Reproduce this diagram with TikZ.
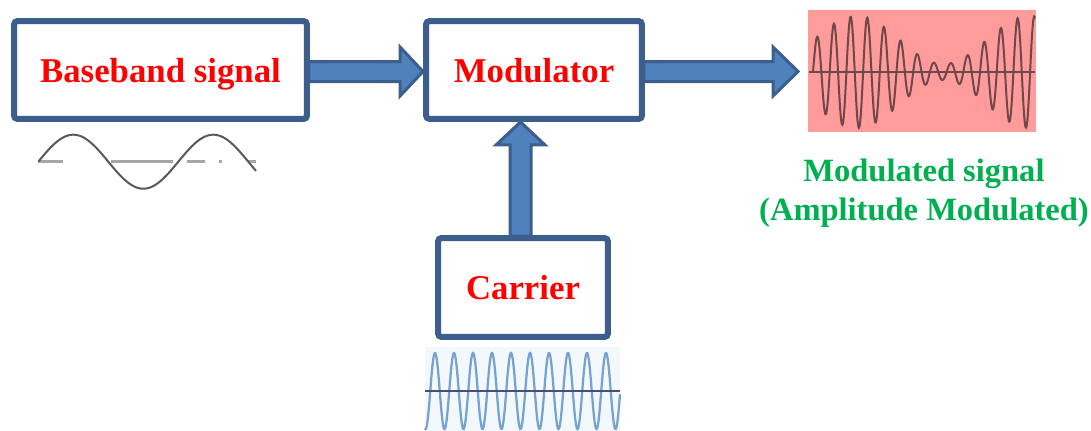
\documentclass[tikz,border=0pt]{standalone}
\usepackage{fontspec}
\setmainfont{Liberation Serif}
\usetikzlibrary{positioning,calc}

\definecolor{boxblue}{RGB}{59,94,140}
\definecolor{arrfill}{RGB}{79,129,189}
\definecolor{sigpink}{RGB}{255,155,155}
\definecolor{lblgreen}{RGB}{0,176,80}
\definecolor{amline}{RGB}{112,72,74}
\definecolor{carline}{RGB}{118,162,208}
\definecolor{carbg}{RGB}{243,248,253}

\begin{document}
\begin{tikzpicture}[x=0.02cm, y=-0.02cm,
  blockbox/.style={draw=boxblue, line width=0.12cm, rounded corners=2pt, fill=white,
    minimum height=1.96cm, text height=0.6cm, text depth=0.12cm, text=red,
    font=\fontsize{19.8pt}{22pt}\selectfont\bfseries},
  blockarr/.style={draw=boxblue, fill=arrfill, line width=0.06cm, line join=miter},
  sigbox/.style={inner sep=0pt, outer sep=0pt},
  wavelbl/.style={text=lblgreen, align=center, font=\fontsize{18.5pt}{22pt}\selectfont\bfseries},
]
\useasboundingbox (0,0) rectangle (1091,430);

% blocks
\node[blockbox, minimum width=5.86cm] (base) at (160.5,70) {Baseband signal};
\node[blockbox, minimum width=4.32cm] (mod) at (534,70) {Modulator};
\node[blockbox, minimum width=3.4cm, minimum height=1.98cm] (car) at (523,287.5) {Carrier};

% signal pictures
\node[sigbox, fill=sigpink, minimum width=4.56cm, minimum height=2.44cm] (amsig) at (922,71) {};
\node[sigbox, fill=carbg, minimum width=3.9cm, minimum height=1.7cm] (carsig) at (522.5,389) {};
\node[wavelbl] (amlabel) at (924,193) {Modulated signal\\(Amplitude Modulated)};

% block arrows
\coordinate (amtip) at ($(amsig.west |- mod.east)+(-10,0)$);
\coordinate (vtip) at (car.north |- mod.south);
\draw[blockarr] ($(base.east)+(-1,-8.5)$) -- ($(mod.west)+(-23,-8.5)$) -- ($(mod.west)+(-23,-23)$)
  -- ($(mod.west)+(0,1.5)$) -- ($(mod.west)+(-23,26)$) -- ($(mod.west)+(-23,11.5)$)
  -- ($(base.east)+(-1,11.5)$) -- cycle;
\draw[blockarr] ($(mod.east)+(-1,-8.5)$) -- ($(amtip)+(-25,-8.5)$) -- ($(amtip)+(-25,-23)$)
  -- ($(amtip)+(0,1.5)$) -- ($(amtip)+(-25,26)$) -- ($(amtip)+(-25,11.5)$)
  -- ($(mod.east)+(-1,11.5)$) -- cycle;
\draw[blockarr] ($(car.north)+(-13,1)$) -- ($(vtip)+(-13,23)$) -- ($(vtip)+(-27,23)$)
  -- ($(vtip)+(-2.5,0)$) -- ($(vtip)+(22,23)$) -- ($(vtip)+(8,23)$)
  -- ($(car.north)+(8,1)$) -- cycle;

% baseband wave
\foreach \a/\b in {38/63, 111/173, 187/205, 219/222, 248/256}
  \draw[gray!70, line width=0.05cm] (\a,161.7) -- (\b,161.7);
\draw[black!65, line width=0.04cm] plot[domain=38.3:256, samples=150, smooth]
  (\x, {161.7 - 27*sin((\x-38.3)*(360/140))});

% modulated wave
\draw[amline, line width=0.035cm] (809,72) -- (1035,72);
\draw[amline, line width=0.04cm] plot[domain=813:1035, samples=500, smooth]
  (\x, {72 - (32+24*cos((\x-856.7)*(360/173)))*sin((\x-813)*(360/16.7))});

% carrier wave
\draw[carline, line width=0.045cm] plot[domain=425:620, samples=400, smooth]
  (\x, {391 - 38*cos((\x-435)*(360/19))});
\draw[black!60!blue!40!gray, line width=0.035cm] (425,391) -- (620,391);
\end{tikzpicture}
\end{document}
